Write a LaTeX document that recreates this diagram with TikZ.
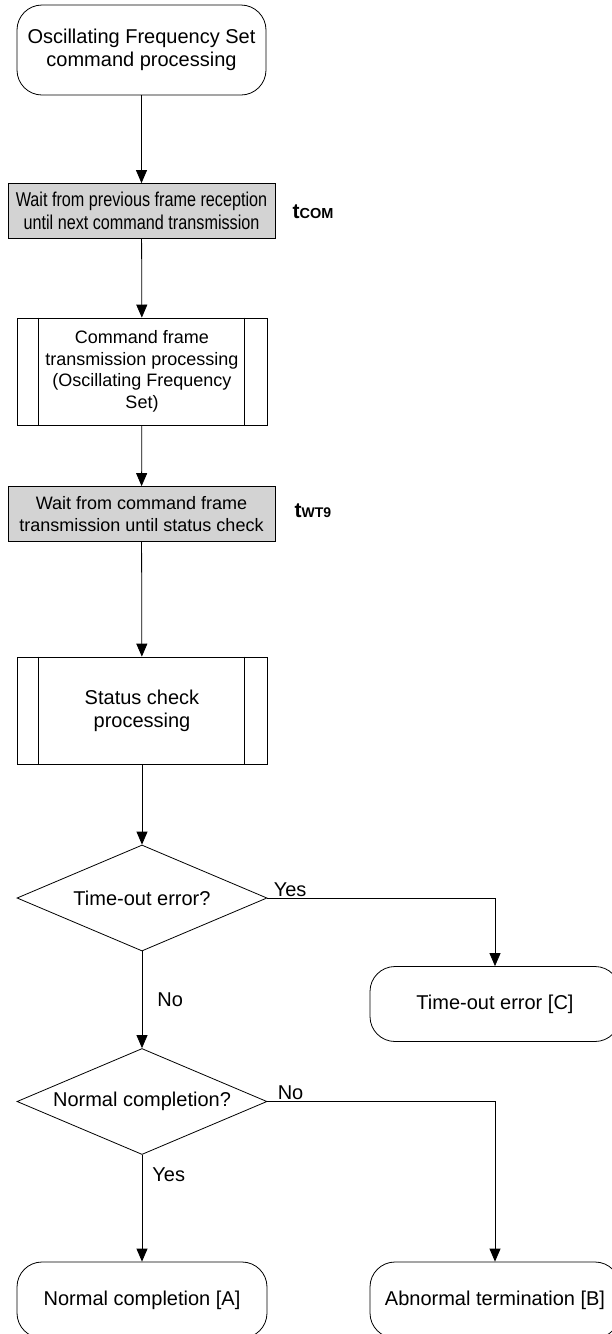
\documentclass[tikz,border=0pt]{standalone}
\usepackage{fontspec}
\setmainfont{Liberation Sans}
\newfontfamily\condfont[FakeStretch=0.81]{Liberation Sans}
\usetikzlibrary{shapes.geometric, arrows.meta, positioning}

\definecolor{waitgray}{RGB}{211,211,211}

\tikzset{
  base/.style={draw, line width=0.8pt, align=center, inner sep=0pt, font=\fontsize{20}{23}\selectfont},
  term/.style={base, rounded corners=25pt},
  waitbox/.style={base, fill=waitgray, minimum width=267pt, minimum height=55pt},
  subproc/.style={base, minimum width=250pt, minimum height=107pt},
  decision/.style={base, diamond, aspect=2.36, minimum width=250pt, minimum height=106pt},
  flow/.style={-{Triangle[width=11pt,length=13pt]}, line width=0.8pt},
  lbl/.style={font=\fontsize{20}{23}\selectfont, inner sep=2pt},
  tlabel/.style={font=\bfseries\fontsize{21}{21}\selectfont, inner sep=0pt}
}

\begin{document}
\begin{tikzpicture}[x=1pt, y=-1pt]
\useasboundingbox (0,0) rectangle (612,1334);

\node[term, minimum width=249pt, minimum height=90pt] (start) at (141.5,50) {Oscillating Frequency Set\\command processing};

\node[waitbox] (wait1) at (141.5,211) {\condfont Wait from previous frame reception\\\condfont until next command transmission};
\node[tlabel] (tcom) at (313,212) {t{\fontsize{14.5}{14.5}\selectfont COM}};

\node[subproc, font=\fontsize{18}{21.5}\selectfont] (cmd) at (142,371.5) {Command frame\\transmission processing\\(Oscillating Frequency\\Set)};

\node[waitbox, font=\fontsize{18}{22}\selectfont] (wait2) at (141.5,514) {Wait from command frame\\transmission until status check};
\node[tlabel] (twt) at (313,511) {t{\fontsize{14}{14}\selectfont WT9}};

\node[subproc] (status) at (142,710.5) {Status check\\processing};

\node[decision] (dec1) at (142,898) {Time-out error?};
\node[term, minimum width=250pt, minimum height=75pt] (errC) at (495,1004) {Time-out error [C]};

\node[decision] (dec2) at (142,1101.5) {Normal completion?};

\node[term, minimum width=250pt, minimum height=76pt] (doneA) at (142,1300) {Normal completion [A]};
\node[term, minimum width=250pt, minimum height=76pt] (errB) at (495,1300) {Abnormal termination [B]};

% side bars of the subroutine boxes
\foreach \n in {cmd, status} {
  \draw[line width=0.8pt] ([xshift=22pt]\n.north west) -- ([xshift=22pt]\n.south west);
  \draw[line width=0.8pt] ([xshift=-23pt]\n.north east) -- ([xshift=-23pt]\n.south east);
}

\draw[flow] (start) -- (wait1);
\draw[flow] (wait1) -- (cmd);
\draw[flow] (cmd) -- (wait2);
\draw[flow] (wait2) -- (status);
\draw[flow] (status) -- (dec1);

\draw[flow] (dec1.east) node[lbl, anchor=south west, xshift=4pt, yshift=-1pt] {Yes} -| (errC);
\draw[flow] (dec1) -- node[lbl, right=13pt] {No} (dec2);
\draw[flow] (dec2.east) node[lbl, anchor=south west, xshift=8pt, yshift=-1pt] {No} -| (errB);
\draw[flow] (dec2) -- node[lbl, pos=0.19, right=8pt] {Yes} (doneA);

\end{tikzpicture}
\end{document}
